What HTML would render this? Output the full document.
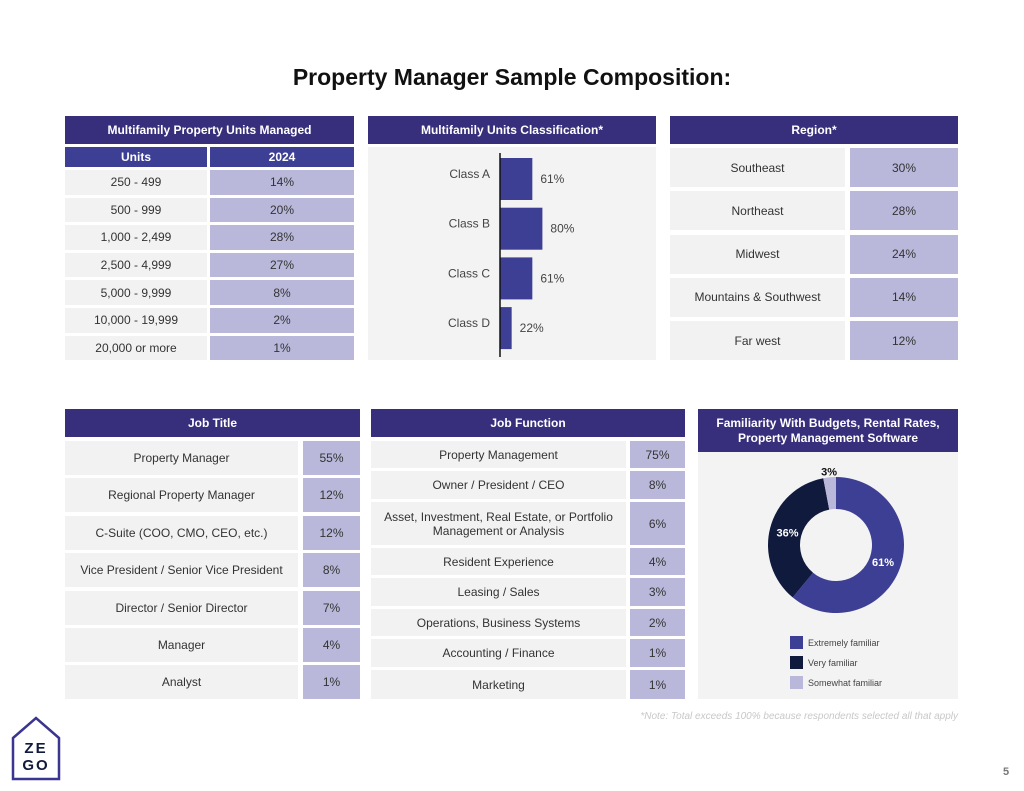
<!DOCTYPE html>
<html><head><meta charset="utf-8">
<style>
*{margin:0;padding:0;box-sizing:border-box}
body{width:1024px;height:791px;background:#fff;position:relative;overflow:hidden;font-family:"Liberation Sans",sans-serif;color:#333}
.a{position:absolute;display:flex;align-items:center;justify-content:center;text-align:center}
.hd{background:#372f7c;color:#fff;font-weight:bold;font-size:12px}
.sh{background:#3d3f94;color:#fff;font-weight:bold;font-size:12px}
.l{background:#f2f2f2;font-size:12px;color:#333}
.r{background:#b9b8da;font-size:12px;color:#333}
</style></head><body>
<div class="a" style="left:0;top:60px;width:1024px;height:34px;font-size:23px;font-weight:bold;color:#111">Property Manager Sample Composition:</div>

<div class="a hd" style="left:65px;top:116px;width:289px;height:28px">Multifamily Property Units Managed</div>
<div class="a sh" style="left:65px;top:147px;width:142px;height:20px">Units</div>
<div class="a sh" style="left:210px;top:147px;width:144px;height:20px">2024</div>
<div id="t1"></div>

<div class="a hd" style="left:368px;top:116px;width:288px;height:28px">Multifamily Units Classification*</div>
<div style="position:absolute;left:368px;top:147px;width:288px;height:213px;background:#f3f3f3"></div>
<svg id="bars" style="position:absolute;left:0;top:0" width="1024" height="791"></svg>

<div class="a hd" style="left:670px;top:116px;width:288px;height:28px">Region*</div>
<div id="t3"></div>

<div class="a hd" style="left:65px;top:409px;width:295px;height:28px">Job Title</div>
<div id="t4"></div>
<div class="a hd" style="left:371px;top:409px;width:314px;height:28px">Job Function</div>
<div id="t5"></div>

<div class="a hd" style="left:698px;top:409px;width:260px;height:43px;line-height:15px">Familiarity With Budgets, Rental Rates,<br>Property Management Software</div>
<div style="position:absolute;left:698px;top:452px;width:260px;height:247px;background:#f3f3f3"></div>
<svg id="donut" style="position:absolute;left:0;top:0" width="1024" height="791"></svg>

<div style="position:absolute;right:66px;top:711px;font-size:10px;font-style:italic;color:#c8c8c8">*Note: Total exceeds 100% because respondents selected all that apply</div>
<svg style="position:absolute;left:0;top:705px" width="80" height="86">
<path d="M13 33 L36 13 L59 33 L59 74 L13 74 Z" fill="none" stroke="#3a3590" stroke-width="2.5"/>
<text x="36" y="48" text-anchor="middle" font-size="15" font-weight="bold" fill="#0f1a3c" font-family="Liberation Sans" letter-spacing="2">ZE</text>
<text x="36" y="65" text-anchor="middle" font-size="15" font-weight="bold" fill="#0f1a3c" font-family="Liberation Sans" letter-spacing="2">GO</text>
</svg>
<div style="position:absolute;left:1003px;top:766px;font-size:11px;font-weight:bold;color:#777">5</div>

<script>
const unitCats=["250 - 499","500 - 999","1,000 - 2,499","2,500 - 4,999","5,000 - 9,999","10,000 - 19,999","20,000 or more"];
const unitVals=["14%","20%","28%","27%","8%","2%","1%"];
const classCats=["Class A","Class B","Class C","Class D"];
const classVals=[61,80,61,22];
const regionCats=["Southeast","Northeast","Midwest","Mountains & Southwest","Far west"];
const regionVals=["30%","28%","24%","14%","12%"];
const jobCats=["Property Manager","Regional Property Manager","C-Suite (COO, CMO, CEO, etc.)","Vice President / Senior Vice President","Director / Senior Director","Manager","Analyst"];
const jobVals=["55%","12%","12%","8%","7%","4%","1%"];
const funcCats=["Property Management","Owner / President / CEO","Asset, Investment, Real Estate, or Portfolio<br>Management or Analysis","Resident Experience","Leasing / Sales","Operations, Business Systems","Accounting / Finance","Marketing"];
const funcVals=["75%","8%","6%","4%","3%","2%","1%","1%"];
const famCats=["Extremely familiar","Very familiar","Somewhat familiar"];
const famVals=[61,36,3];

function cell(parent,cls,x,y,w,h,html,name){
  const d=document.createElement('div');
  d.className='a '+cls;
  d.style.cssText=`left:${x}px;top:${y}px;width:${w}px;height:${h}px`;
  d.innerHTML=html;
  
  
  parent.appendChild(d);
}
function table(id,cats,vals,tops,heights,lx,lw,rx,rw,prefix){
  const p=document.getElementById(id);
  cats.forEach((c,i)=>{
    cell(p,'l',lx,tops[i],lw,heights[i],c,prefix+'-label');
    cell(p,'r',rx,tops[i],rw,heights[i],vals[i],prefix+'-value');
  });
}
table('t1',unitCats,unitVals,unitCats.map((_,i)=>170+i*27.6),unitCats.map(()=>24.5),65,142,210,144,'units-row');
table('t3',regionCats,regionVals,regionCats.map((_,i)=>148+i*43.3),regionCats.map(()=>39),670,175,850,108,'region-row');
table('t4',jobCats,jobVals,jobCats.map((_,i)=>441+i*37.4),jobCats.map(()=>34),65,233,303,57,'job-title-row');
table('t5',funcCats,funcVals,[441,471,502,548,578,609,639,670],[27,28,43,27,28,27,28,29],371,255,630,55,'job-function-row');

const NS='http://www.w3.org/2000/svg';
function mk(svg,tag,attrs,name){
  const e=document.createElementNS(NS,tag);
  for(const k in attrs)e.setAttribute(k,attrs[k]);
  
  
  svg.appendChild(e);return e;
}
// bar chart
const bs=document.getElementById('bars');
const x0=500, xs=v=>v*0.53, bandTop=153, bandStep=49.7, barH=42;
classCats.forEach((c,i)=>{
  const y=bandTop+5+i*bandStep;
  mk(bs,'rect',{x:x0,y:y,width:xs(classVals[i]),height:barH,fill:'#3d3f94'},'bar-'+c.toLowerCase().replace(' ','-'));
  const t1=mk(bs,'text',{x:x0-10,y:y+barH/2-1,'text-anchor':'end','font-size':12,fill:'#444','font-family':'Liberation Sans'},'category-label');t1.textContent=c;
  const t2=mk(bs,'text',{x:x0+xs(classVals[i])+8,y:y+barH/2+4,'font-size':12,fill:'#444','font-family':'Liberation Sans'},'value-label');t2.textContent=classVals[i]+'%';
});
mk(bs,'line',{x1:x0,y1:153,x2:x0,y2:357,stroke:'#111','stroke-width':1.5},'y-axis-line');

// donut
const ds=document.getElementById('donut');
const cx=836,cy=545,R=68,r=36,cols=['#3d3f94','#0f1a3c','#b9b8da'];
const tot=famVals.reduce((a,b)=>a+b,0);
let ang=0;
famVals.forEach((v,i)=>{
  const a0=ang, a1=ang+v/tot*2*Math.PI; ang=a1;
  const p=(a,rad)=>[cx+rad*Math.sin(a),cy-rad*Math.cos(a)];
  const lg=(a1-a0)>Math.PI?1:0;
  const [x1,y1]=p(a0,R),[x2,y2]=p(a1,R),[x3,y3]=p(a1,r),[x4,y4]=p(a0,r);
  mk(ds,'path',{d:`M${x1} ${y1}A${R} ${R} 0 ${lg} 1 ${x2} ${y2}L${x3} ${y3}A${r} ${r} 0 ${lg} 0 ${x4} ${y4}Z`,fill:cols[i]},'slice-'+famCats[i].toLowerCase().replace(' ','-'));
  const m=(a0+a1)/2, lr=i==2?R+6:50;
  const [lx,ly]=p(m,lr);
  const t=mk(ds,'text',{x:lx,y:ly+4,'text-anchor':'middle','font-size':11,'font-weight':'bold',fill:i==2?'#111':'#fff','font-family':'Liberation Sans'},'slice-label');t.textContent=v+'%';
  mk(ds,'rect',{x:790,y:636+i*20,width:13,height:13,fill:cols[i]},'legend-swatch');
  const lt=mk(ds,'text',{x:808,y:646+i*20,'font-size':9,fill:'#444','font-family':'Liberation Sans'},'legend-entry');lt.textContent=famCats[i];
});
</script>
</body></html>
